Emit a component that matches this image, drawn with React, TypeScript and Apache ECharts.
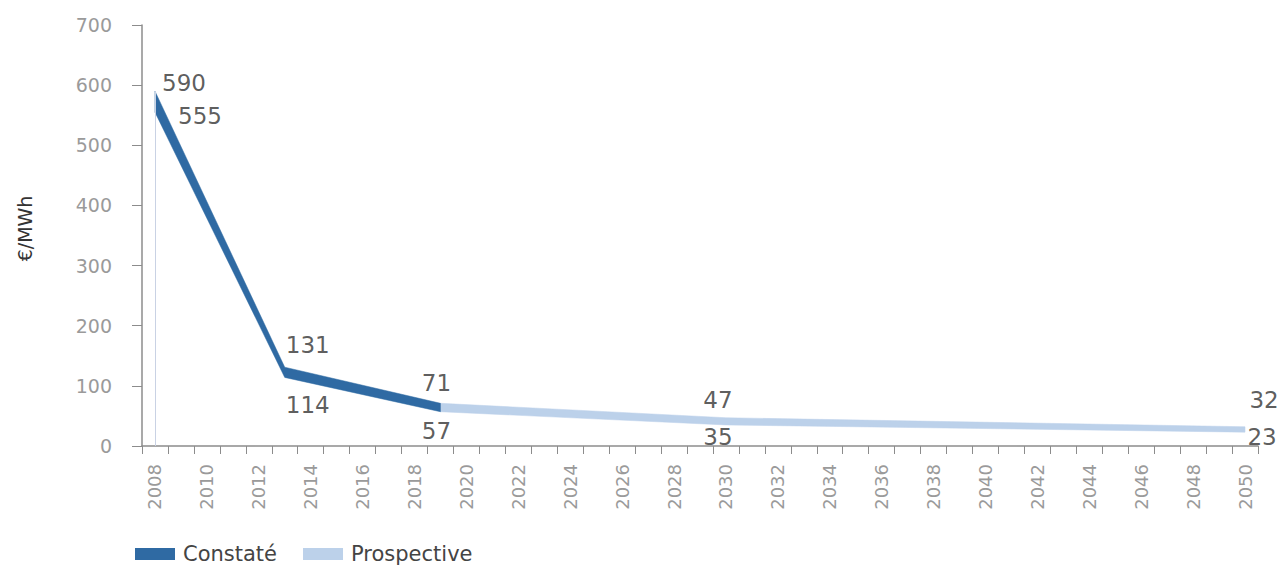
import React, { useEffect, useRef } from "react";
import * as echarts from "echarts";

const years = [
  "2008", "2009", "2010", "2011", "2012", "2013", "2014", "2015", "2016", "2017",
  "2018", "2019", "2020", "2021", "2022", "2023", "2024", "2025", "2026", "2027",
  "2028", "2029", "2030", "2031", "2032", "2033", "2034", "2035", "2036", "2037",
  "2038", "2039", "2040", "2041", "2042", "2043", "2044", "2045", "2046", "2047",
  "2048", "2049", "2050",
];

const constateYears = [2008, 2013, 2019];
const constateLow = [555, 114, 57];
const constateHigh = [590, 131, 71];

const prospYears = [2019, 2030, 2050];
const prospLow = [57, 35, 23];
const prospHigh = [71, 47, 32];

const yTicks = [0, 100, 200, 300, 400, 500, 600, 700];

const DARK = "#2f6aa3";
const LIGHT = "#bcd1ea";

// label offsets per point (pixels), high/low
const constateHighOff = [[29, -8], [23, -22], [-4, -20]];
const constateLowOff = [[45, 4], [23, 28], [-4, 19]];
const prospHighOff = [[0, 0], [-8, -18], [19, -27]];
const prospLowOff = [[0, 0], [-8, 12], [17, 5]];

export default function App() {
  const ref = useRef<HTMLDivElement>(null);
  useEffect(() => {
    if (!ref.current) return;
    const chart = echarts.init(ref.current, null, { renderer: "svg" });
    const font = "'DejaVu Sans', Roboto, sans-serif";

    const bandSeries = (
      name: string,
      xs: number[],
      lo: number[],
      hi: number[],
      color: string,
      extra: any = {}
    ) => ({
      name,
      type: "custom",
      xAxisIndex: 1,
      itemStyle: { color },
      encode: { x: 0, y: [1, 2] },
      data: xs.map((x, i) => [x, lo[i], hi[i]]),
      renderItem: (params: any, api: any) => {
        if (params.dataIndex !== 0) return null;
        const pts: number[][] = [];
        for (let i = 0; i < xs.length; i++) pts.push(api.coord([xs[i], hi[i]]));
        for (let i = xs.length - 1; i >= 0; i--) pts.push(api.coord([xs[i], lo[i]]));
        return {
          type: "polygon",
          shape: { points: pts },
          style: { fill: color, stroke: color, lineWidth: 0.5 },
        };
      },
      ...extra,
    });

    const labelPts = (
      xs: number[],
      ys: number[],
      offs: number[][],
      skipFirst: boolean
    ) =>
      xs.map((x, i) => ({
        value: [x, ys[i]],
        label: {
          show: !(skipFirst && i === 0),
          offset: offs[i],
        },
      }));

    const labelSeries = (data: any[]) => ({
      type: "scatter",
      xAxisIndex: 1,
      symbolSize: 0,
      silent: true,
      data,
      label: {
        show: true,
        position: "inside",
        align: "center",
        verticalAlign: "middle",
        formatter: (p: any) => String(p.value[1]),
        fontFamily: font,
        fontSize: 23,
        color: "#333333",
      },
      z: 10,
    });

    chart.setOption({
      animation: false,
      grid: { left: 142, right: 30, top: 25, bottom: 121 },
      legend: {
        left: 135,
        top: 543,
        padding: 0,
        itemWidth: 40,
        itemHeight: 12,
        itemGap: 26,
        icon: "rect",
        data: ["Constaté", "Prospective"],
        textStyle: {
          fontFamily: font,
          fontSize: 21,
          lineHeight: 22,
          color: "#444444",
          padding: [0, 0, 0, 3],
        },
      },
      xAxis: [
        {
          type: "category",
          data: years,
          boundaryGap: true,
          axisLine: { lineStyle: { color: "#8c8c8c", width: 1.5 } },
          axisTick: { show: true, interval: 0, length: 8, lineStyle: { color: "#8c8c8c" } },
          axisLabel: {
            interval: 1,
            rotate: 90,
            margin: 18,
            fontFamily: font,
            fontSize: 18,
            color: "#9a9a9a",
          },
        },
        {
          type: "value",
          min: 2007.5,
          max: 2050.5,
          show: false,
        },
      ],
      yAxis: {
        type: "value",
        min: yTicks[0],
        max: yTicks[yTicks.length - 1],
        interval: 100,
        name: "€/MWh",
        nameLocation: "middle",
        nameGap: 108,
        nameTextStyle: {
          fontFamily: font,
          fontSize: 19,
          color: "#333333",
          padding: [0, 0, 0, 14],
        },
        axisLine: { show: true, lineStyle: { color: "#8c8c8c", width: 1.5 } },
        axisTick: { show: true, length: 10, lineStyle: { color: "#8c8c8c" } },
        axisLabel: {
          margin: 30,
          fontFamily: font,
          fontSize: 19,
          color: "#9a9a9a",
        },
        splitLine: { show: false },
      },
      series: [
        bandSeries("Prospective", prospYears, prospLow, prospHigh, LIGHT, { z: 2 }),
        bandSeries("Constaté", constateYears, constateLow, constateHigh, DARK, {
          z: 3,
          markLine: {
            silent: true,
            symbol: "none",
            label: { show: false },
            lineStyle: { color: "#c9d2e4", width: 1, type: "solid" },
            data: [
              [
                { coord: [constateYears[0], 0] },
                { coord: [constateYears[0], constateHigh[0]] },
              ],
            ],
          },
        }),
        labelSeries(labelPts(constateYears, constateHigh, constateHighOff, false)),
        labelSeries(labelPts(constateYears, constateLow, constateLowOff, false)),
        labelSeries(labelPts(prospYears, prospHigh, prospHighOff, true)),
        labelSeries(labelPts(prospYears, prospLow, prospLowOff, true)),
      ],
    });
    return () => chart.dispose();
  }, []);
  return (
    <div
      ref={ref}
      style={{ position: "absolute", left: 0, top: 0, width: 1288, height: 567 }}
    />
  );
}
